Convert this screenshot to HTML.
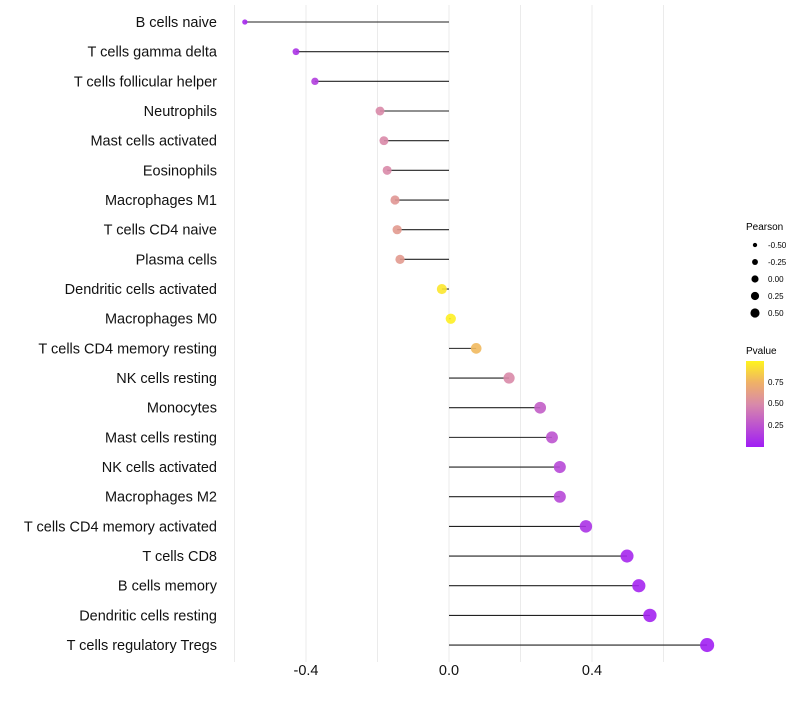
<!DOCTYPE html>
<html><head><meta charset="utf-8"><style>
body{margin:0;background:#fff;font-family:"Liberation Sans",Arial,sans-serif}
</style></head><body>
<svg id="chart" width="800" height="700" xmlns="http://www.w3.org/2000/svg">
<defs><linearGradient id="pg" x1="0" y1="1" x2="0" y2="0">
<stop offset="0" stop-color="#A01DF5"/><stop offset="0.5" stop-color="#D98AA9"/><stop offset="0.75" stop-color="#EFB167"/><stop offset="1" stop-color="#FFF41E"/></linearGradient></defs>
<g id="grid"></g>
<g id="marks"></g>
<g id="ylabels"></g>
<g id="xlabels"></g>
<g id="sleg">
<text x="746" y="230" font-size="10">Pearson</text>
</g>
<g>
<text x="746" y="354" font-size="10">Pvalue</text>
<rect x="746" y="361" width="18" height="86" fill="url(#pg)"/>
<text x="768" y="385" font-size="8">0.75</text>
<text x="768" y="406" font-size="8">0.50</text>
<text x="768" y="428" font-size="8">0.25</text>
</g>
</svg>
<script>
const categories=["B cells naive","T cells gamma delta","T cells follicular helper","Neutrophils","Mast cells activated","Eosinophils","Macrophages M1","T cells CD4 naive","Plasma cells","Dendritic cells activated","Macrophages M0","T cells CD4 memory resting","NK cells resting","Monocytes","Mast cells resting","NK cells activated","Macrophages M2","T cells CD4 memory activated","T cells CD8","B cells memory","Dendritic cells resting","T cells regulatory  Tregs"];
const pearson=[-0.571,-0.428,-0.375,-0.193,-0.182,-0.173,-0.151,-0.145,-0.137,-0.02,0.005,0.076,0.168,0.255,0.288,0.31,0.31,0.383,0.498,0.531,0.562,0.722];
const pvalue=[0.05,0.1,0.15,0.5,0.5,0.5,0.58,0.6,0.6,0.95,0.98,0.78,0.5,0.3,0.25,0.2,0.2,0.1,0.05,0.04,0.03,0.01];
const xTicks=[-0.4,0,0.4];
const xGrid=[-0.6,-0.4,-0.2,0,0.2,0.4,0.6];
const legendVals=[-0.5,-0.25,0,0.25,0.5];
const legendLabels=["-0.50","-0.25","0.00","0.25","0.50"];
const NS="http://www.w3.org/2000/svg";
const xs=v=>449+v*357.5;
const ys=i=>22+i*29.67;
const rs=v=>Math.sqrt(Math.max(2.25,26+33*v));
function mk(t,a,p){const e=document.createElementNS(NS,t);for(const k in a)e.setAttribute(k,a[k]);p.appendChild(e);return e;}
function lerp(a,b,t){return a.map((x,i)=>Math.round(x+(b[i]-x)*t));}
const stops=[[0,[160,29,245]],[0.5,[217,138,169]],[0.75,[239,177,103]],[1,[255,244,30]]];
function col(p){for(let i=1;i<stops.length;i++){if(p<=stops[i][0]){const t=(p-stops[i-1][0])/(stops[i][0]-stops[i-1][0]);const c=lerp(stops[i-1][1],stops[i][1],t);return `rgb(${c})`;}}return "rgb(255,244,30)";}
const grid=document.getElementById('grid');
xGrid.forEach(v=>{const l=mk('line',{x1:xs(v),x2:xs(v),y1:5,y2:662,stroke:'#ebebeb','stroke-width':1},grid);

});
const marks=document.getElementById('marks'),yl=document.getElementById('ylabels'),xl=document.getElementById('xlabels');
categories.forEach((c,i)=>{
const s=mk('line',{x1:xs(0),x2:xs(pearson[i]),y1:ys(i),y2:ys(i),stroke:'#222','stroke-width':1.1},marks);


const p=mk('circle',{cx:xs(pearson[i]),cy:ys(i),r:rs(pearson[i]),fill:col(pvalue[i]),'fill-opacity':0.9},marks);


const t=mk('text',{x:217,y:ys(i)+5,'text-anchor':'end','font-size':14.5,fill:'#111'},yl);t.textContent=c;


});
xTicks.forEach(v=>{const t=mk('text',{x:xs(v),y:675,'text-anchor':'middle','font-size':14.5,fill:'#111'},xl);t.textContent=v===0?"0.0":v.toFixed(1);

});
const sl=document.getElementById('sleg');
legendVals.forEach((v,i)=>{const y=245+i*17;
const c=mk('circle',{cx:755,cy:y,r:rs(v)*0.7,fill:'#000'},sl);


const t=mk('text',{x:768,y:y+3,'font-size':8},sl);t.textContent=legendLabels[i];

});
</script>
</body></html>
